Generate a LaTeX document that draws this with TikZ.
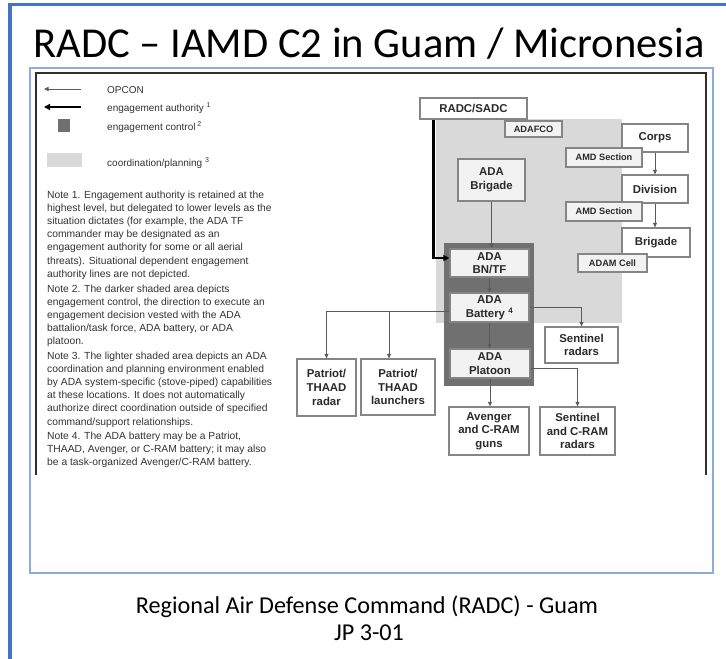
\documentclass[tikz,border=0pt]{standalone}
\usepackage{fontspec}
\setmainfont{Liberation Sans}
\newfontfamily\calib{Carlito}
\usetikzlibrary{arrows.meta}
\definecolor{bluebar}{HTML}{4472C4}
\definecolor{frameblue}{HTML}{8FAADC}
\definecolor{frameblk}{HTML}{2E2E2E}
\definecolor{lightshade}{HTML}{D9D9D9}
\definecolor{darkshade}{HTML}{707070}
\definecolor{boxline}{HTML}{858585}
\definecolor{boxfill}{HTML}{F2F2F2}
\definecolor{txt}{HTML}{2A2A2A}
\definecolor{notetxt}{HTML}{333333}
\definecolor{connc}{HTML}{5A5A5A}
\begin{document}
\begin{tikzpicture}[x=1pt,y=-1pt,
 box/.style={draw=boxline,line width=1.3pt,fill=white,inner sep=0pt,align=center,text=txt,font=\bfseries\fontsize{11.4}{13.6}\selectfont},
 inbox/.style={box,fill=boxfill},
 smallbox/.style={inbox,font=\bfseries\fontsize{9.2}{10}\selectfont},
 link/.style={draw=connc,line width=0.9pt,-{Triangle[length=4.5pt,width=4pt]}},
 authlink/.style={draw=black,line width=2.4pt,-{Triangle[length=6pt,width=6pt]}},
 notetext/.style={anchor=base west,inner sep=0pt,text=notetxt,font=\fontsize{10.3}{12}\selectfont},
 legtext/.style={anchor=base west,inner sep=0pt,text=notetxt,font=\fontsize{10}{12}\selectfont},
 captext/.style={anchor=base,inner sep=0pt,text=black}
]
\useasboundingbox (0,0) rectangle (726,659);
\fill[white] (0,0) rectangle (726,659);
% slide frame
\fill[bluebar] (8,3) rectangle (12,659);
\fill[bluebar] (8,3) rectangle (726,5.5);
\draw[frameblue,line width=1.2pt] (30,68) rectangle (713,573);
\draw[frameblk,line width=1.8pt] (36,475) -- (36,73) -- (706,73) -- (706,475);
% title and caption
\node[captext,font=\calib\fontsize{42.6}{50}\selectfont] (title) at (369,57) {RADC – IAMD C2 in Guam / Micronesia};
\node[captext,font=\calib\fontsize{24.2}{28}\selectfont] (cap1) at (367,613) {Regional Air Defense Command (RADC) - Guam};
\node[captext,font=\calib\fontsize{24.2}{28}\selectfont] (cap2) at (369,640) {JP 3-01};
% legend
\coordinate (l1a) at (81,89); \coordinate (l1b) at (44,89);
\draw[link] (l1a) -- (l1b);
\coordinate (l2a) at (81,107); \coordinate (l2b) at (44,107);
\draw[authlink] (l2a) -- (l2b);
\node[fill=darkshade,minimum width=12pt,minimum height=13pt,inner sep=0pt] (lsq) at (64,125.5) {};
\node[fill=lightshade,minimum width=35pt,minimum height=14pt,inner sep=0pt] (lrect) at (64.5,160) {};
\node[legtext] (t1) at (107,93) {OPCON};
\node[legtext] (t2) at (107,111) {engagement authority \textsuperscript{1}};
\node[legtext] (t3) at (107,130) {engagement control\,\textsuperscript{2}};
\node[legtext] (t4) at (107,166) {coordination/planning \textsuperscript{3}};
% notes
\foreach \t [count=\i from 0] in {{Note 1. Engagement authority is retained at the},{highest level, but delegated to lower levels as the},{situation dictates (for example, the ADA TF},{commander may be designated as an},{engagement authority for some or all aerial},{threats). Situational dependent engagement},{authority lines are not depicted.}}
  \node[notetext] (na\i) at (47,{198+13.2*\i}) {\t};
\foreach \t [count=\i from 0] in {{Note 2. The darker shaded area depicts},{engagement control, the direction to execute an},{engagement decision vested with the ADA},{battalion/task force, ADA battery, or ADA},{platoon.}}
  \node[notetext] (nb\i) at (47,{292+13.2*\i}) {\t};
\foreach \t [count=\i from 0] in {{Note 3. The lighter shaded area depicts an ADA},{coordination and planning environment enabled},{by ADA system-specific (stove-piped) capabilities},{at these locations. It does not automatically},{authorize direct coordination outside of specified},{command/support relationships.}}
  \node[notetext] (nc\i) at (47,{359+13.2*\i}) {\t};
\foreach \t [count=\i from 0] in {{Note 4. The ADA battery may be a Patriot,},{THAAD, Avenger, or C-RAM battery; it may also},{be a task-organized Avenger/C-RAM battery.}}
  \node[notetext] (nd\i) at (47,{439+13.2*\i}) {\t};
% shaded areas
\fill[lightshade] (436,119) rectangle (622,323);
\fill[darkshade] (444,243) rectangle (534,386);
% boxes
\node[box,minimum width=107pt,minimum height=21pt] (radc) at (473.5,108.5) {RADC/SADC};
\node[smallbox,minimum width=57pt,minimum height=16pt] (adafco) at (533.5,129) {ADAFCO};
\node[box,minimum width=66pt,minimum height=28pt] (corps) at (655,138) {Corps};
\node[smallbox,minimum width=76pt,minimum height=19pt] (amd1) at (604,157.5) {AMD Section};
\node[box,minimum width=66pt,minimum height=28pt] (division) at (655,189) {Division};
\node[smallbox,minimum width=76pt,minimum height=19pt] (amd2) at (604,211.5) {AMD Section};
\node[box,minimum width=68pt,minimum height=29pt] (brigade) at (656,242.5) {Brigade};
\node[smallbox,minimum width=69pt,minimum height=18pt] (adam) at (612.5,263) {ADAM Cell};
\node[inbox,minimum width=67pt,minimum height=42pt] (adabde) at (491.5,180) {ADA\\Brigade};
\node[inbox,minimum width=79pt,minimum height=28pt] (bntf) at (489.5,263) {ADA\\BN/TF};
\node[inbox,minimum width=79pt,minimum height=29pt] (battery) at (489.5,307.5) {ADA\\Battery \textsuperscript{4}};
\node[inbox,minimum width=80pt,minimum height=29pt] (platoon) at (490,363.5) {ADA\\Platoon};
\node[box,minimum width=73pt,minimum height=36pt] (sentinel) at (581.5,345) {Sentinel\\radars};
\node[box,minimum width=59pt,minimum height=57pt] (pradar) at (326.5,387.5) {Patriot/\\THAAD\\radar};
\node[box,minimum width=74pt,minimum height=56pt] (plaunch) at (398,387) {Patriot/\\THAAD\\launchers};
\node[box,minimum width=80pt,minimum height=48pt] (avenger) at (489,431) {Avenger\\and C-RAM\\guns};
\node[box,minimum width=75pt,minimum height=48pt] (sentcram) at (577.5,431) {Sentinel\\and C-RAM\\radars};
% connectors
\draw[link] (corps.south) -- (corps.south |- division.north);
\draw[link] (division.south) -- (division.south |- brigade.north);
\draw[link] (adabde.south) -- (adabde.south |- bntf.north);
\draw[link] (bntf.south) -- (bntf.south |- battery.north);
\draw[link] (battery.south) -- (battery.south |- platoon.north);
\draw[link] (platoon.south) -- (platoon.south |- avenger.north);
\draw[link] ([yshift=-4pt]battery.west) -| (pradar.north);
\coordinate (jl) at (389,311.5);
\draw[link] (jl) -- (jl |- plaunch.north);
\draw[link] (battery.east) -| (sentinel.north);
\draw[link] ([yshift=-4.5pt]platoon.east) -| (sentcram.north);
\draw[authlink] ([xshift=14pt]radc.south west) |- ([yshift=5pt]bntf.west);
\end{tikzpicture}
\end{document}
